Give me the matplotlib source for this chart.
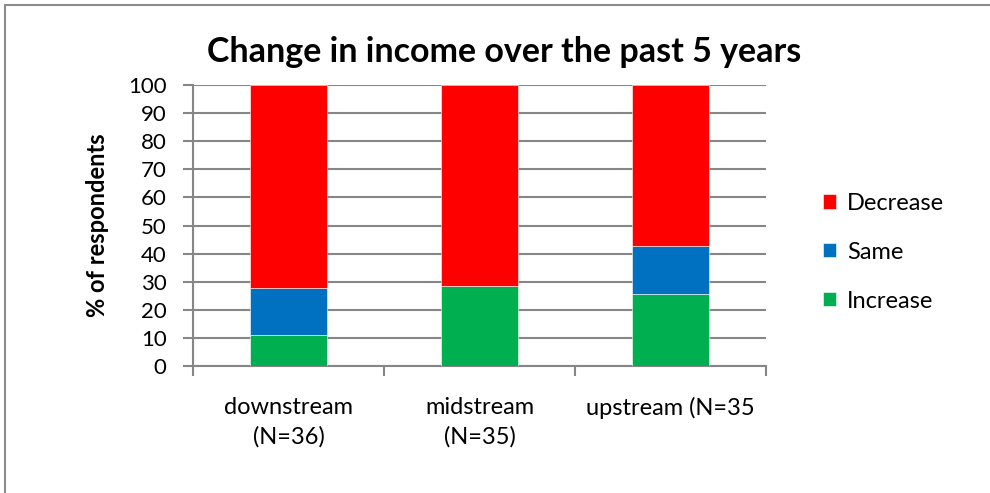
import matplotlib.pyplot as plt
from matplotlib.patches import Rectangle
from matplotlib.ticker import FixedLocator
import numpy as np

plt.rcParams['font.family'] = ['Lato', 'DejaVu Sans']

categories = ['downstream\n(N=36)', 'midstream\n(N=35)', 'upstream (N=35']
increase = [11.1, 28.6, 25.7]
same = [16.7, 0.0, 17.1]
decrease = [72.2, 71.4, 57.1]

fig = plt.figure(figsize=(9.9, 4.93), dpi=100)
ax = fig.add_axes([193/990, 1 - 366/493, (766 - 193)/990, (366 - 85)/493])

x = np.arange(len(categories))
w = 0.40
inc = np.array(increase)
sam = np.array(same)
dec = np.array(decrease)
ax.bar(x, inc, w, color='#00B050', label='Increase', edgecolor='white', linewidth=0.4, zorder=3)
ax.bar(x, sam, w, bottom=inc, color='#0070C0', label='Same', edgecolor='white', linewidth=0.4, zorder=3)
ax.bar(x, dec, w, bottom=inc + sam, color='#FF0000', label='Decrease', edgecolor='white', linewidth=0.4, zorder=3)

gray = '#868686'
ax.set_xlim(-0.5, len(categories) - 0.5)
ax.set_ylim(0, 100)
ax.set_yticks(np.arange(0, 101, 10))
ax.yaxis.grid(True, color=gray, linewidth=1.5, zorder=0)
ax.set_axisbelow(True)
for s in ['top', 'right']:
    ax.spines[s].set_visible(False)
for s in ['left', 'bottom']:
    ax.spines[s].set_color(gray)
    ax.spines[s].set_linewidth(1.5)

ax.set_xticks(x)
ax.set_xticklabels(categories, fontsize=17, linespacing=1.5)
ax.tick_params(axis='x', which='major', length=0, pad=22)
ax.xaxis.set_minor_locator(FixedLocator(np.arange(-0.5, len(categories), 1.0)))
ax.tick_params(axis='x', which='minor', length=7, width=1.5, color=gray)
ax.tick_params(axis='y', length=7, width=1.5, color=gray, labelsize=16, pad=12)

ax.set_ylabel('% of respondents', fontsize=17, fontweight='bold', labelpad=14)
fig.suptitle('Change in income over the past 5 years', fontsize=24.5, fontweight='bold',
             x=504/990, y=1 - 52/493, va='center')

handles, labels = ax.get_legend_handles_labels()
leg = ax.legend(handles[::-1], labels[::-1], loc='center left', bbox_to_anchor=(1.063, 0.405),
                frameon=False, fontsize=17, handlelength=0.55, handleheight=0.55,
                handletextpad=0.45, labelspacing=1.18)

fig.patches.append(Rectangle((5/990, -0.1), 2, 1.1 - 5/493, transform=fig.transFigure,
                             fill=False, edgecolor='#8c8c8c', linewidth=1.5, zorder=0))

fig.savefig('out.png', dpi=100, facecolor='white')
